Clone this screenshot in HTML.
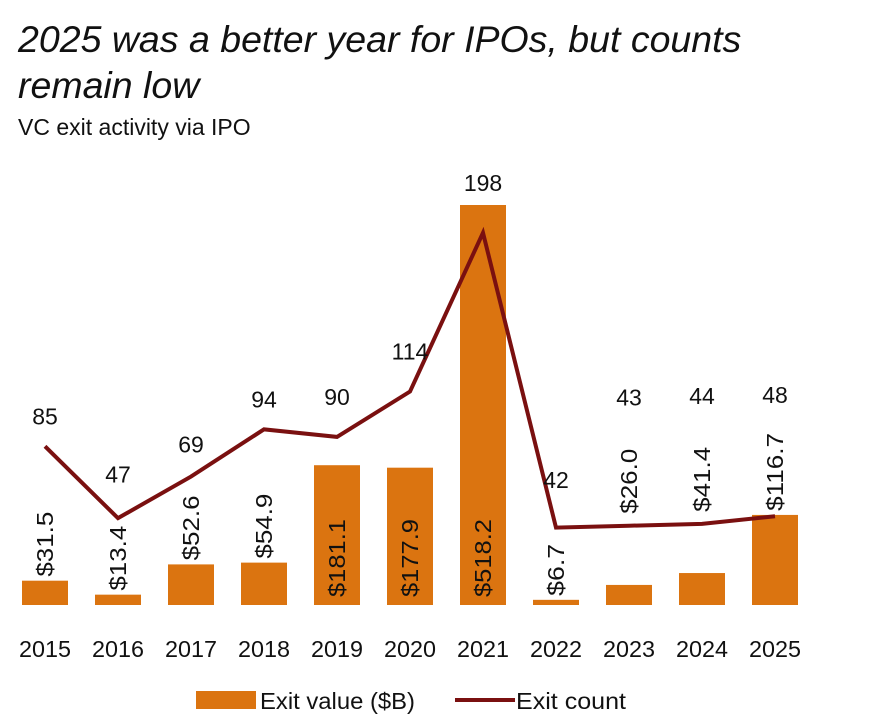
<!DOCTYPE html>
<html><head><meta charset="utf-8"><style>
body{margin:0;background:#fff;width:873px;height:724px;overflow:hidden;font-family:"Liberation Sans Narrow","Liberation Sans",sans-serif;}
.t{position:absolute;left:18px;top:16px;font-size:37.5px;font-style:italic;line-height:46px;color:#111;font-family:"Liberation Sans",sans-serif;}
.s{position:absolute;left:18px;top:114px;font-size:23px;color:#111;font-family:"Liberation Sans",sans-serif;}
</style></head><body>
<div class="t">2025 was a better year for IPOs, but counts<br>remain low</div>
<div class="s">VC exit activity via IPO</div>
<svg id="c" width="873" height="724" style="position:absolute;left:0;top:0"></svg>
<script>
const years=["2015","2016","2017","2018","2019","2020","2021","2022","2023","2024","2025"];
const exitValues=[31.5,13.4,52.6,54.9,181.1,177.9,518.2,6.7,26.0,41.4,116.7];
const exitCounts=[85,47,69,94,90,114,198,42,43,44,48];
const NS="http://www.w3.org/2000/svg";
const svg=document.getElementById('c');
const base=605, vScale=400/518.2, cBase=607, cScale=1.89;
const xPos=i=>45+i*73;
const yVal=v=>base-v*vScale;
const yCnt=v=>cBase-v*cScale;
function mk(tag,attrs,parent){const e=document.createElementNS(NS,tag);for(const k in attrs)e.setAttribute(k,attrs[k]);(parent||svg).appendChild(e);return e;}
const F='"Liberation Sans Narrow","Liberation Sans",sans-serif';
exitValues.forEach((v,i)=>{
  const r=mk('rect',{x:xPos(i)-23,y:yVal(v),width:46,height:base-yVal(v),fill:'#DB7410'});
  
  
});
let pts=exitCounts.map((c,i)=>xPos(i)+','+yCnt(c)).join(' ');
const pl=mk('polyline',{points:pts,fill:'none',stroke:'#7A1010','stroke-width':4,'stroke-linejoin':'miter'});


exitValues.forEach((v,i)=>{
  const top=yVal(v), ly=yCnt(exitCounts[i]), h=base-top, len=76;
  let bottom;
  if(h>100){bottom=base-8;}
  else{bottom=top-4; const lt=bottom-len; if(ly>lt+10&&ly<bottom) bottom=ly-12;}
  const x=xPos(i);
  const txt='$'+v.toFixed(1);
  const t=mk('text',{x:0,y:0,transform:`translate(${x+8},${bottom}) rotate(-90)`,'font-size':23,fill:'#111','font-family':F,textLength:txt.length*13,lengthAdjust:'spacingAndGlyphs'});
  t.textContent=txt;
  
  
  let cy=Math.min(ly-30,bottom-len-40);
  if(h>100) cy=Math.min(ly-40,top-22);
  const ct=mk('text',{x:x,y:cy+8,'text-anchor':'middle','font-size':23,fill:'#111','font-family':F});
  ct.textContent=exitCounts[i];
  
  
  const yt=mk('text',{x:x,y:657,'text-anchor':'middle','font-size':23,fill:'#111','font-family':F,textLength:52,lengthAdjust:'spacingAndGlyphs'});
  yt.textContent=years[i];
  
  
});
const lg=mk('g',{});


const l1=mk('rect',{x:196,y:691,width:60,height:18,fill:'#DB7410'},lg);


const t1=mk('text',{x:260,y:709,'font-size':23,fill:'#111','font-family':F,textLength:155,lengthAdjust:'spacingAndGlyphs'},lg);
t1.textContent='Exit value ($B)';


const l2=mk('line',{x1:455,y1:700,x2:515,y2:700,stroke:'#7A1010','stroke-width':4},lg);


const t2=mk('text',{x:516,y:709,'font-size':23,fill:'#111','font-family':F,textLength:110,lengthAdjust:'spacingAndGlyphs'},lg);
t2.textContent='Exit count';


</script>
</body></html>
